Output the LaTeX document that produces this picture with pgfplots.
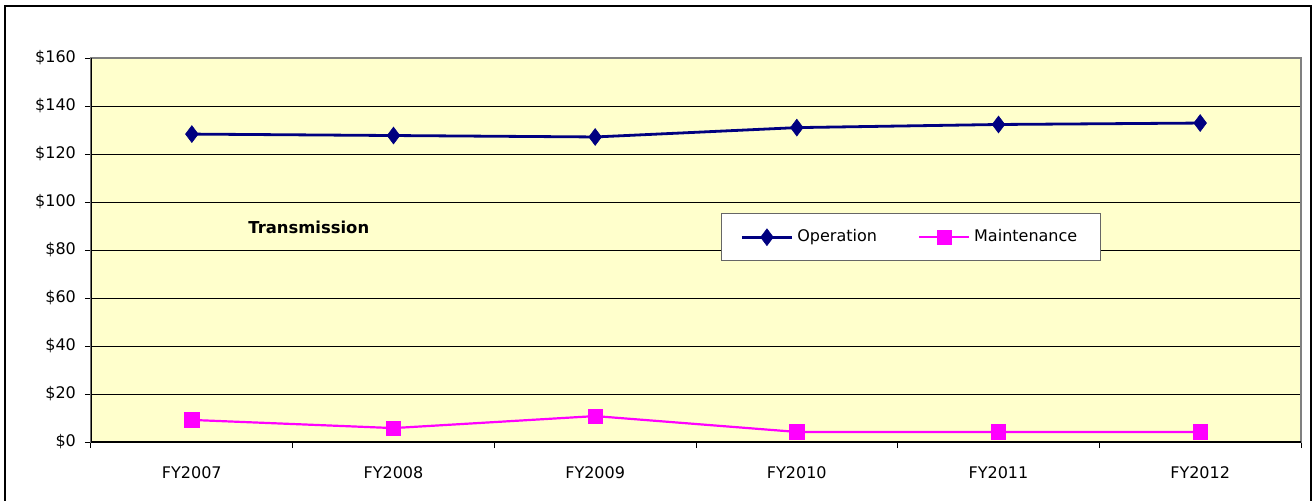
\documentclass[border=0pt]{standalone}
\usepackage{pgfplots}
\pgfplotsset{compat=1.18}
\usepackage{fontspec}
\setmainfont{DejaVu Sans}
\definecolor{opnavy}{RGB}{0,0,128}
\definecolor{mmag}{RGB}{255,0,255}
\definecolor{plotbg}{RGB}{255,255,204}
\begin{document}
\begin{tikzpicture}
\path[use as bounding box] (-45.5pt,-29pt) rectangle (612.5pt,221pt);
\draw[line width=0.6pt] (-43pt,-40pt) rectangle (610pt,218pt);
\begin{axis}[
  scale only axis,
  width=605pt, height=192pt,
  xmin=-0.5, xmax=5.5, ymin=0, ymax=160,
  axis background/.style={fill=plotbg},
  axis line style={draw=gray, line width=0.8pt},
  xtick={-0.5,0.5,...,5.5},
  x tick label as interval,
  xticklabels={FY2007,FY2008,FY2009,FY2010,FY2011,FY2012},
  ytick={0,20,...,160},
  yticklabels={\$0,\$20,\$40,\$60,\$80,\$100,\$120,\$140,\$160},
  tick align=outside,
  major tick length=3pt,
  tick style={black, line width=0.5pt},
  xtick pos=bottom, ytick pos=left,
  ymajorgrids,
  major grid style={black, line width=0.5pt},
  tick label style={font=\fontsize{8}{9}\selectfont},
  xticklabel style={yshift=-6pt},
  yticklabel style={xshift=-1pt},
  legend style={at={(0.5207,0.596)}, anchor=north west, legend columns=2,
    draw=gray!80!black, fill=white, line width=0.5pt,
    font=\fontsize{8}{9}\selectfont,
    inner xsep=9.5pt, inner ysep=6pt,
    /tikz/every even column/.append style={column sep=18.5pt}},
  legend cell align=left,
  legend image code/.code={\draw[mark repeat=2,mark phase=2] plot coordinates {(0pt,0pt)(12.5pt,0pt)(25pt,0pt)};},
]
\addplot[opnavy, line width=1.4pt, mark=diamond*, mark size=4.2pt, mark options={solid, fill=opnavy, line width=0.3pt}]
  coordinates {(0,128.3) (1,127.7) (2,127.1) (3,131.0) (4,132.3) (5,132.9)};
\addlegendentry{Operation}
\addplot[mmag, line width=1.1pt, mark=square*, mark size=3.6pt, mark options={solid, fill=mmag, line width=0.3pt}]
  coordinates {(0,9.2) (1,5.8) (2,10.8) (3,4.2) (4,4.2) (5,4.2)};
\addlegendentry{Maintenance}
\node[font=\bfseries\fontsize{8.2}{9}\selectfont] at (rel axis cs:0.18,0.56) {Transmission};
\draw[black, line width=0.8pt] (rel axis cs:0,1) -- (rel axis cs:0,0) -- (rel axis cs:1,0);
\end{axis}
\end{tikzpicture}
\end{document}
